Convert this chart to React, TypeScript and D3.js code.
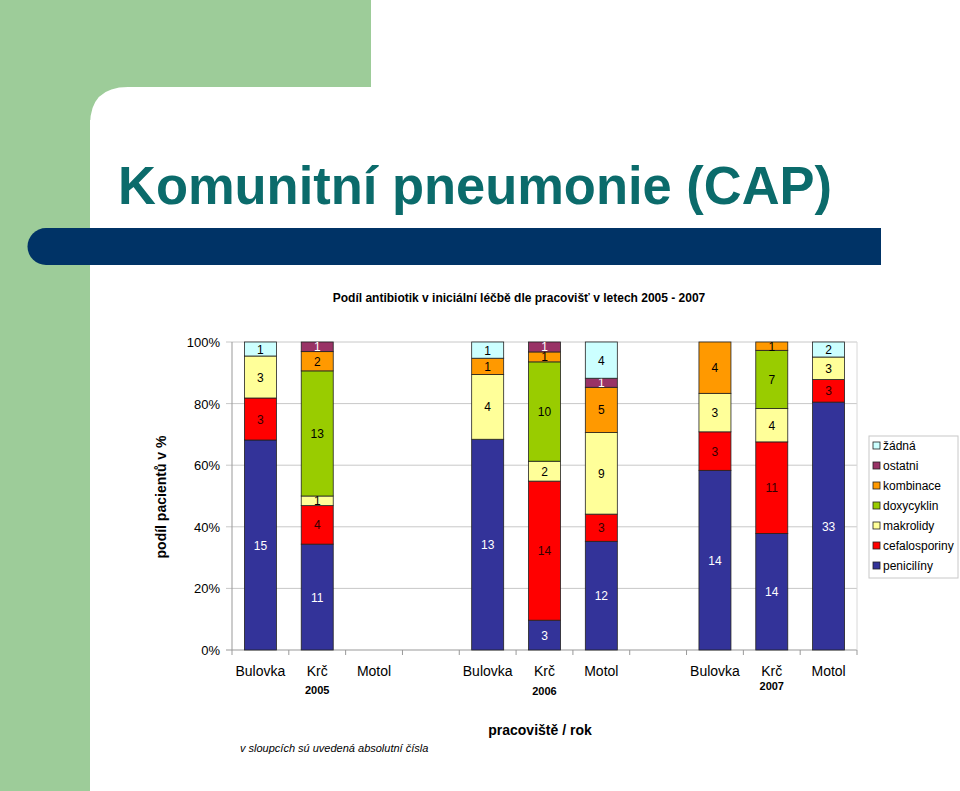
import React from "react";
import * as d3 from "d3";

const sites = ["Bulovka", "Krč", "Motol"];
const years = ["2005", "2006", "2007"];
const seriesNames = ["penicilíny", "cefalosporiny", "makrolidy", "doxycyklin", "kombinace", "ostatni", "žádná"];
const seriesColors = ["#333399", "#FF0000", "#FFFF99", "#99CC00", "#FF9900", "#993366", "#CCFFFF"];
const labelColors = ["#FFFFFF", "#330000", "#000000", "#000000", "#000000", "#FFFFFF", "#000000"];
// order of bars: 2005 Bulovka, Krč, Motol, 2006 ..., 2007 ...
const peniciliny = [15, 11, 0, 13, 3, 12, 14, 14, 33];
const cefalosporiny = [3, 4, 0, 0, 14, 3, 3, 11, 3];
const makrolidy = [3, 1, 0, 4, 2, 9, 3, 4, 3];
const doxycyklin = [0, 13, 0, 0, 10, 0, 0, 7, 0];
const kombinace = [0, 2, 0, 1, 1, 5, 4, 1, 0];
const ostatni = [0, 1, 0, 0, 1, 1, 0, 0, 0];
const zadna = [1, 0, 0, 1, 0, 4, 0, 0, 2];
const yTicks = [0, 0.2, 0.4, 0.6, 0.8, 1];
const legendLabels = ["žádná", "ostatni", "kombinace", "doxycyklin", " makrolidy", "cefalosporiny", "penicilíny"];

const seriesValues = [peniciliny, cefalosporiny, makrolidy, doxycyklin, kombinace, ostatni, zadna];

const FONT = "'Liberation Sans', Arial, sans-serif";

export default function App() {
  // slots: 3 sites per year + 1 gap slot between years
  const slots: string[] = [];
  years.forEach((y, yi) => {
    sites.forEach((s) => slots.push(`${y}-${s}`));
    if (yi < years.length - 1) slots.push(`gap-${yi}`);
  });
  const x = d3.scaleBand<string>().domain(slots).range([232, 857]).paddingInner(0).paddingOuter(0);
  const y = d3.scaleLinear().domain([0, 1]).range([650, 342]);
  const barW = 32;

  const rows = years.flatMap((yr, yi) =>
    sites.map((s, si) => {
      const idx = yi * 3 + si;
      const o: any = { key: `${yr}-${s}`, site: s, year: yr };
      seriesNames.forEach((n, k) => (o[n] = seriesValues[k][idx]));
      return o;
    })
  );
  const stack = d3.stack<any>().keys(seriesNames).offset(d3.stackOffsetExpand);
  const stacked = stack(rows);

  const segments: any[] = [];
  stacked.forEach((layer, k) => {
    layer.forEach((d: any, i: number) => {
      const v = rows[i][seriesNames[k]];
      if (!v || isNaN(d[0]) || isNaN(d[1])) return;
      segments.push({ k, key: rows[i].key, y0: d[0], y1: d[1], v });
    });
  });

  const yearLabelY = [690, 691, 686];

  return (
    <svg width={960} height={791} style={{ position: "absolute", left: 0, top: 0, background: "#fff" }}>
      {/* slide background */}
      <rect x={0} y={0} width={960} height={791} fill="#fff" />
      <rect x={0} y={0} width={371} height={120} fill="#9DCC99" />
      <rect x={0} y={0} width={90} height={791} fill="#9DCC99" />
      <path d="M90,791 L90,125 Q90,87 128,87 L371,87 L371,160 L90,160 Z" fill="#fff" />
      <path d="M46,228 L881,228 L881,265 L46,265 A18.5,18.5 0 0 1 46,228 Z" fill="#003366" />
      <text x={118} y={204} fontFamily={FONT} fontWeight="bold" fontSize={53} fill="#0B6B6B" textLength={714} lengthAdjust="spacingAndGlyphs">
        Komunitní pneumonie (CAP)
      </text>

      {/* chart title */}
      <text x={519} y={302} textAnchor="middle" fontFamily={FONT} fontWeight="bold" fontSize={12} fill="#000">
        Podíl antibiotik v iniciální léčbě dle pracovišť v letech 2005 - 2007
      </text>

      {/* gridlines */}
      {yTicks.map((t) => (
        <g key={t}>
          <line x1={226} x2={857} y1={y(t)} y2={y(t)} stroke={t === 0 ? "#999" : "#C8C8C8"} strokeWidth={1} />
          <text x={220} y={y(t) + 5} textAnchor="end" fontFamily={FONT} fontSize={13} fill="#000">
            {`${Math.round(t * 100)}%`}
          </text>
        </g>
      ))}
      <line x1={232} x2={232} y1={342} y2={650} stroke="#999" />
      <line x1={857} x2={857} y1={342} y2={650} stroke="#D8D8D8" />
      {slots.map((s, i) => (
        <line key={s} x1={x(s)! + (i === 0 ? 0 : 0)} x2={x(s)!} y1={650} y2={655} stroke="#999" />
      ))}
      <line x1={857} x2={857} y1={650} y2={655} stroke="#999" />

      {/* bars */}
      {segments.map((sg, i) => {
        const cx = x(sg.key)! + x.bandwidth() / 2;
        const top = y(sg.y1);
        const bot = y(sg.y0);
        return (
          <g key={i}>
            <rect x={cx - barW / 2} y={top} width={barW} height={bot - top} fill={seriesColors[sg.k]} stroke="#222" strokeWidth={0.8} />
            <text x={cx} y={(top + bot) / 2 + 4.5} textAnchor="middle" fontFamily={FONT} fontSize={12} fill={labelColors[sg.k]}>
              {sg.v}
            </text>
          </g>
        );
      })}

      {/* x labels */}
      {rows.map((r) => (
        <text key={r.key} x={x(r.key)! + x.bandwidth() / 2} y={676} textAnchor="middle" fontFamily={FONT} fontSize={14} fill="#000">
          {r.site}
        </text>
      ))}
      {years.map((yr, yi) => (
        <text key={yr} x={x(`${yr}-Krč`)! + x.bandwidth() / 2} y={yearLabelY[yi] + 4} textAnchor="middle" fontFamily={FONT} fontWeight="bold" fontSize={11} fill="#000">
          {yr}
        </text>
      ))}

      {/* axis titles */}
      <text transform="translate(166,497) rotate(-90)" textAnchor="middle" fontFamily={FONT} fontWeight="bold" fontSize={14} fill="#000">
        podíl pacientů v %
      </text>
      <text x={540} y={735} textAnchor="middle" fontFamily={FONT} fontWeight="bold" fontSize={14} fill="#000">
        pracoviště / rok
      </text>
      <text x={240} y={752} fontFamily={FONT} fontStyle="italic" fontSize={11} fill="#000">
        v sloupcích sú uvedená absolutní čísla
      </text>

      {/* legend */}
      <rect x={869} y={436} width={89} height={142} fill="#fff" stroke="#C8C8C8" />
      {legendLabels.map((l, i) => {
        const k = seriesNames.length - 1 - i;
        const ly = 446 + i * 20;
        return (
          <g key={l}>
            <rect x={873} y={ly - 4} width={7} height={7} fill={seriesColors[k]} stroke="#222" strokeWidth={0.8} />
            <text x={883} y={ly + 4} fontFamily={FONT} fontSize={12} fill="#000">
              {l}
            </text>
          </g>
        );
      })}
    </svg>
  );
}
